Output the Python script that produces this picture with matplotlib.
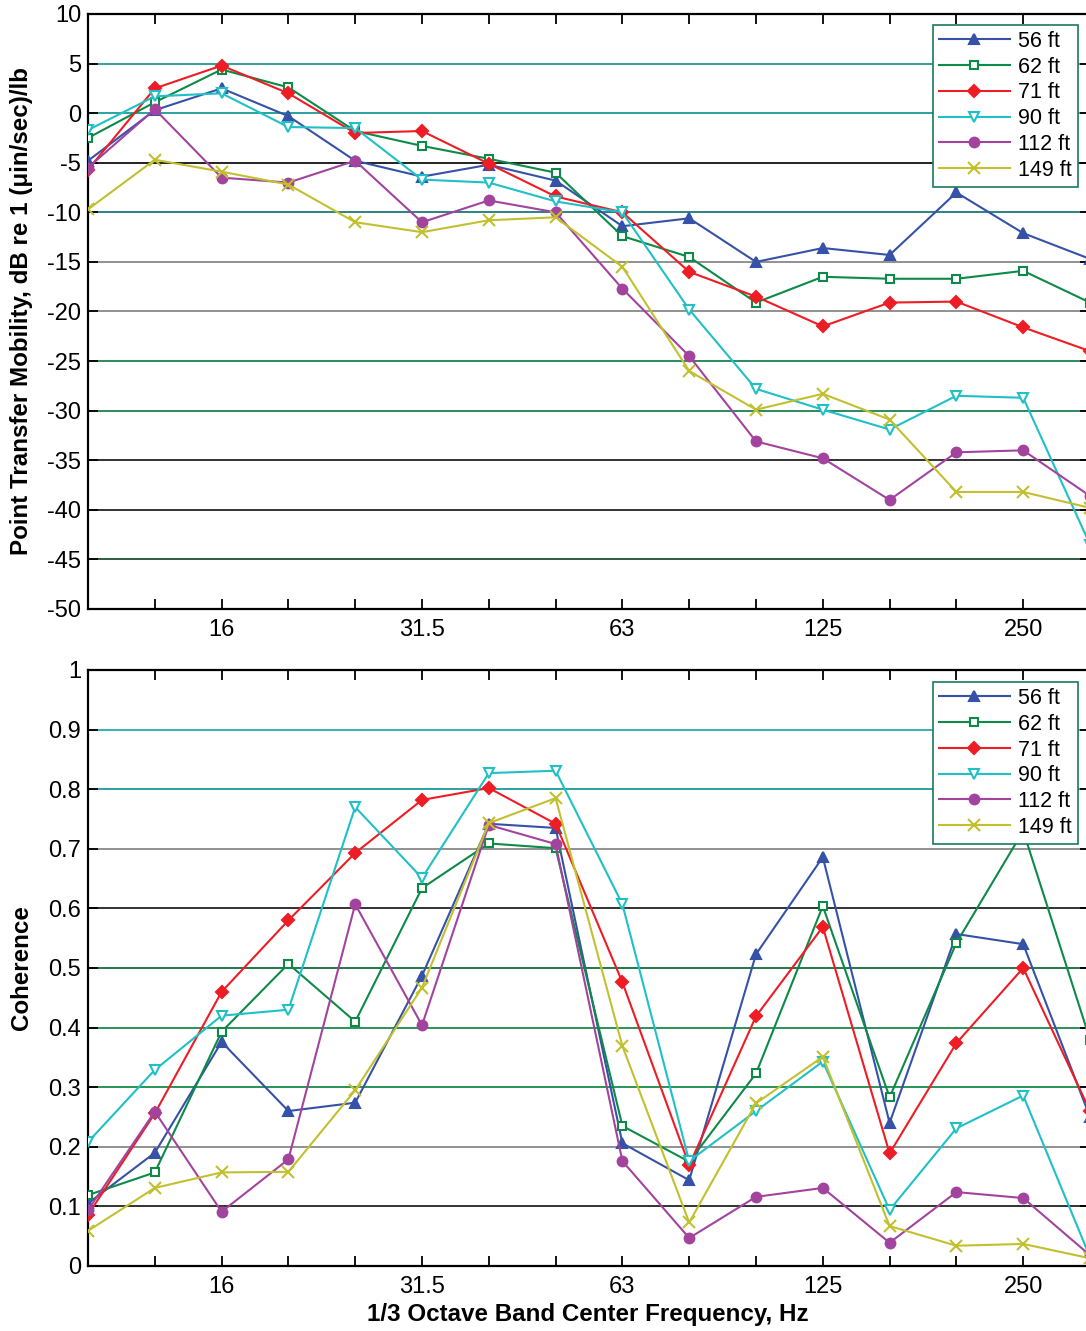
import matplotlib
matplotlib.use("Agg")
import matplotlib.pyplot as plt

plt.rcParams['font.family'] = ['Liberation Sans', 'DejaVu Sans']
plt.rcParams['axes.unicode_minus'] = False

freqs = ["10", "12.5", "16", "20", "25", "31.5", "40", "50", "63", "80",
         "100", "125", "160", "200", "250", "315"]
labeled = ["16", "31.5", "63", "125", "250"]
series_names = ["56 ft", "62 ft", "71 ft", "90 ft", "112 ft", "149 ft"]

mob_56 = [-4.8, 0.3, 2.5, -0.3, -4.8, -6.4, -5.2, -6.8, -11.4, -10.6, -15.0, -13.6, -14.3, -8.0, -12.1, -14.7]
mob_62 = [-2.5, 1.1, 4.4, 2.6, -1.8, -3.3, -4.6, -6.0, -12.4, -14.5, -19.1, -16.5, -16.7, -16.7, -15.9, -19.1]
mob_71 = [-5.7, 2.5, 4.8, 2.0, -2.0, -1.8, -5.1, -8.4, -10.0, -16.0, -18.5, -21.5, -19.1, -19.0, -21.6, -24.0]
mob_90 = [-1.7, 1.7, 2.0, -1.4, -1.5, -6.7, -7.0, -8.9, -10.0, -19.8, -27.8, -29.9, -31.9, -28.5, -28.7, -43.5]
mob_112 = [-5.5, 0.4, -6.5, -7.0, -4.8, -11.0, -8.8, -10.0, -17.7, -24.5, -33.1, -34.8, -39.0, -34.2, -34.0, -38.6]
mob_149 = [-9.7, -4.7, -5.9, -7.2, -11.0, -12.0, -10.8, -10.5, -15.5, -26.0, -29.9, -28.3, -30.9, -38.2, -38.2, -39.8]

coh_56 = [0.105, 0.190, 0.376, 0.260, 0.274, 0.487, 0.742, 0.735, 0.206, 0.144, 0.523, 0.686, 0.240, 0.557, 0.540, 0.25]
coh_62 = [0.119, 0.157, 0.393, 0.507, 0.410, 0.634, 0.709, 0.701, 0.235, 0.175, 0.323, 0.604, 0.283, 0.542, 0.730, 0.38]
coh_71 = [0.086, 0.256, 0.460, 0.580, 0.693, 0.782, 0.802, 0.742, 0.476, 0.169, 0.419, 0.569, 0.189, 0.374, 0.500, 0.26]
coh_90 = [0.208, 0.329, 0.420, 0.430, 0.770, 0.651, 0.827, 0.831, 0.607, 0.176, 0.260, 0.343, 0.094, 0.231, 0.286, 0.015]
coh_112 = [0.094, 0.259, 0.091, 0.179, 0.607, 0.404, 0.740, 0.708, 0.176, 0.047, 0.116, 0.131, 0.039, 0.124, 0.114, 0.018]
coh_149 = [0.059, 0.131, 0.157, 0.158, 0.295, 0.467, 0.743, 0.785, 0.369, 0.073, 0.273, 0.351, 0.067, 0.034, 0.037, 0.013]

mobility = [mob_56, mob_62, mob_71, mob_90, mob_112, mob_149]
coherence = [coh_56, coh_62, coh_71, coh_90, coh_112, coh_149]

colors = ["#3552A8", "#0E8A48", "#EE1C24", "#1FC0C6", "#A2449E", "#C2C02E"]
markers = ["^", "s", "D", "v", "o", "x"]
mfill = [True, False, True, False, True, True]
msizes = [7, 6, 6, 7, 7, 8]

top_grid = {5: "#1a9a9a", 0: "#1a9a9a", -5: "#111111", -10: "#1a7a7a", -15: "#888888",
            -20: "#888888", -25: "#1a8050", -30: "#1a8050", -35: "#222222", -40: "#222222", -45: "#1a5030"}
bot_grid = {0.9: "#1fb0b0", 0.8: "#1a9a9a", 0.7: "#888888", 0.6: "#222222", 0.5: "#136b3a",
            0.4: "#1a8a4a", 0.3: "#1a8a4a", 0.2: "#888888", 0.1: "#222222"}

W, H = 1086, 1331
fig = plt.figure(figsize=(W / 100, H / 100), dpi=100)
left = 88 / W
width = (1090 - 88) / W
ax1 = fig.add_axes([left, 1 - 609 / H, width, 595 / H])
ax2 = fig.add_axes([left, 1 - 1266 / H, width, 596 / H])

x = list(range(len(freqs)))
label_idx = [freqs.index(l) for l in labeled]

def style(ax, data, grid, ylim, yticks, yticklabels, legend_top):
    for g, c in grid.items():
        ax.axhline(g, color=c, lw=1.3, zorder=1)
    for name, vals, c, m, f, ms in zip(series_names, data, colors, markers, mfill, msizes):
        ax.plot(x, vals, color=c, marker=m, markersize=ms, lw=1.5,
                markerfacecolor=c if f else "white", markeredgecolor=c,
                markeredgewidth=1.5, label=name, zorder=3, clip_on=True)
    ax.set_xlim(0, len(freqs) - 1)
    ax.set_ylim(*ylim)
    ax.set_xticks(x[1:-1])
    ax.set_xticklabels([freqs[i] if i in label_idx else "" for i in x[1:-1]], fontsize=17)
    ax.set_yticks(yticks)
    ax.set_yticklabels(yticklabels, fontsize=17)
    ax.tick_params(axis='x', pad=7)
    ax.tick_params(axis='y', pad=5)
    ax.tick_params(axis='both', direction='in', length=7, width=1.3, top=True, right=True)
    for s in ax.spines.values():
        s.set_linewidth(1.6)
        s.set_color("black")
    leg = ax.legend(loc="upper right", bbox_to_anchor=(1078 / W, 1 - legend_top / H),
                    bbox_transform=fig.transFigure, borderaxespad=0, fontsize=15.5,
                    handlelength=3.3, handletextpad=0.4, labelspacing=0.22,
                    fancybox=False, framealpha=1, borderpad=0.28)
    leg.get_frame().set_edgecolor("#1a7a5a")
    leg.get_frame().set_linewidth(1.2)

style(ax1, mobility, top_grid, (-50, 10), list(range(-50, 11, 5)),
      [str(v) for v in range(-50, 11, 5)], 25)
cticks = [i / 10 for i in range(11)]
clabels = ["0"] + [f"{v:.1f}" for v in cticks[1:-1]] + ["1"]
style(ax2, coherence, bot_grid, (0, 1), cticks, clabels, 682)

fig.text(22 / W, 1 - 311 / H, "Point Transfer Mobility, dB re 1 (μin/sec)/lb", rotation=90,
         ha="center", va="center", fontsize=17.4, fontweight="bold")
fig.text(22 / W, 1 - 968 / H, "Coherence", rotation=90,
         ha="center", va="center", fontsize=17.4, fontweight="bold")
fig.text(588 / W, 1 - 1315 / H, "1/3 Octave Band Center Frequency, Hz",
         ha="center", va="center", fontsize=17.4, fontweight="bold")

fig.savefig("out.png", dpi=100)
